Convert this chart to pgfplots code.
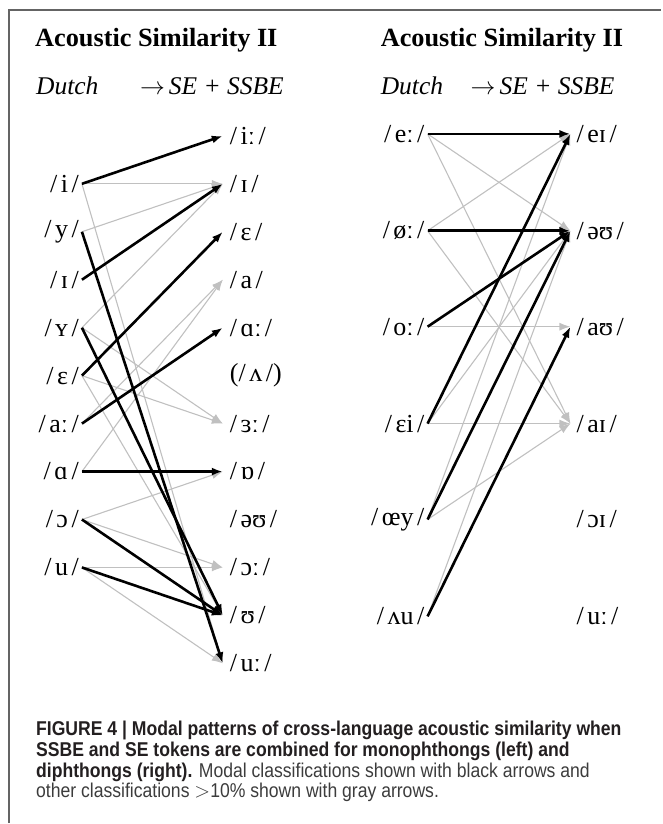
\documentclass[border=0pt]{standalone}
\usepackage{fontspec}
\setmainfont{Liberation Serif}
\newfontfamily\capfont[FakeStretch=0.88]{Liberation Sans}
\usepackage{pgfplots}
\pgfplotsset{compat=1.18}
\usetikzlibrary{arrows.meta}
\definecolor{lg}{RGB}{192,192,192}
\definecolor{framec}{RGB}{100,100,100}
\definecolor{capc}{RGB}{35,31,32}
\definecolor{capr}{RGB}{60,60,60}
\tikzset{
 blk/.style={black, line width=2.6pt, -{Latex[length=11pt,width=8pt]}},
 gry/.style={lg, line width=1.1pt, -{Latex[length=11pt,width=8pt]}},
 lab/.style={font=\fontsize{26}{27}\selectfont, inner sep=0pt},
}
\newcommand\ph[1]{/\kern3.5pt#1\kern3.5pt/}
\begin{document}
\begin{tikzpicture}
\begin{axis}[hide axis, scale only axis, width=662pt, height=824pt,
 xmin=0, xmax=662, ymin=0, ymax=824, y dir=reverse, clip=false]
\addplot[draw=none] coordinates {(0,0) (662,824)};
% frame
\addplot[framec, line width=1.6pt] coordinates {(9,824) (9,10) (662,10)};
% titles
\node[anchor=base west, font=\bfseries\fontsize{26.3}{27}\selectfont, inner sep=0pt] at (axis cs:35,47) {Acoustic Similarity II};
\node[anchor=base west, font=\bfseries\fontsize{26.3}{27}\selectfont, inner sep=0pt] at (axis cs:381,47) {Acoustic Similarity II};
\node[anchor=base west, font=\itshape\fontsize{25.5}{26}\selectfont, inner sep=0pt] at (axis cs:36,95) {Dutch};
\node[anchor=base west, font=\itshape\fontsize{25.5}{26}\selectfont, inner sep=0pt] at (axis cs:140,95) {$\rightarrow$\kern4pt SE + SSBE};
\node[anchor=base west, font=\itshape\fontsize{25.5}{26}\selectfont, inner sep=0pt] at (axis cs:381,95) {Dutch};
\node[anchor=base west, font=\itshape\fontsize{25.5}{26}\selectfont, inner sep=0pt] at (axis cs:471,95) {$\rightarrow$\kern4pt SE + SSBE};

% ---------- left panel: gray arrows ----------
\addplot[gry] coordinates {(82,184) (223,184)};
\addplot[gry] coordinates {(82,184) (223,664)};
\addplot[gry] coordinates {(82,232) (223,184)};
\addplot[gry] coordinates {(82,328) (223,184)};
\addplot[gry] coordinates {(82,328) (223,424)};
\addplot[gry] coordinates {(82,376) (223,424)};
\addplot[gry] coordinates {(82,376) (223,616)};
\addplot[gry] coordinates {(82,424) (223,280)};
\addplot[gry] coordinates {(82,472) (223,280)};
\addplot[gry] coordinates {(82,520) (223,472)};
\addplot[gry] coordinates {(82,520) (223,568)};
\addplot[gry] coordinates {(82,568) (223,568)};
\addplot[gry] coordinates {(82,568) (223,664)};
% ---------- left panel: black arrows ----------
\addplot[blk] coordinates {(82,184) (223,136)};
\addplot[blk] coordinates {(82,280) (223,184)};
\addplot[blk] coordinates {(82,376) (223,232)};
\addplot[blk] coordinates {(82,424) (223,328)};
\addplot[blk] coordinates {(82,472) (223,472)};
\addplot[blk] coordinates {(82,232) (223,664)};
\addplot[blk] coordinates {(82,328) (223,616)};
\addplot[blk] coordinates {(82,520) (223,616)};
\addplot[blk] coordinates {(82,568) (223,616)};

% left panel Dutch labels
\node[lab, anchor=east] at (axis cs:79,184) {\ph{i}};
\node[lab, anchor=east] at (axis cs:79,232) {\ph{y}};
\node[lab, anchor=east] at (axis cs:79,280) {\ph{ɪ}};
\node[lab, anchor=east] at (axis cs:79,328) {\ph{ʏ}};
\node[lab, anchor=east] at (axis cs:79,376) {\ph{ɛ}};
\node[lab, anchor=east] at (axis cs:79,424) {\ph{aː}};
\node[lab, anchor=east] at (axis cs:79,472) {\ph{ɑ}};
\node[lab, anchor=east] at (axis cs:79,520) {\ph{ɔ}};
\node[lab, anchor=east] at (axis cs:79,568) {\ph{u}};
% left panel English labels
\node[lab, anchor=west] at (axis cs:230,136) {\ph{iː}};
\node[lab, anchor=west] at (axis cs:230,184) {\ph{ɪ}};
\node[lab, anchor=west] at (axis cs:230,232) {\ph{ɛ}};
\node[lab, anchor=west] at (axis cs:230,280) {\ph{a}};
\node[lab, anchor=west] at (axis cs:230,328) {\ph{ɑː}};
\node[lab, anchor=west] at (axis cs:230,376) {(\ph{ʌ})};
\node[lab, anchor=west] at (axis cs:230,424) {\ph{ɜː}};
\node[lab, anchor=west] at (axis cs:230,472) {\ph{ɒ}};
\node[lab, anchor=west] at (axis cs:230,520) {\ph{əʊ}};
\node[lab, anchor=west] at (axis cs:230,568) {\ph{ɔː}};
\node[lab, anchor=west] at (axis cs:230,616) {\ph{ʊ}};
\node[lab, anchor=west] at (axis cs:230,664) {\ph{uː}};

% ---------- right panel: gray arrows ----------
\addplot[gry] coordinates {(428,134) (571,231)};
\addplot[gry] coordinates {(428,134) (571,424)};
\addplot[gry] coordinates {(428,231) (571,134)};
\addplot[gry] coordinates {(428,231) (571,424)};
\addplot[gry] coordinates {(428,327) (571,327)};
\addplot[gry] coordinates {(428,424) (571,231)};
\addplot[gry] coordinates {(428,424) (571,424)};
\addplot[gry] coordinates {(428,520) (571,134)};
\addplot[gry] coordinates {(428,520) (571,424)};
\addplot[gry] coordinates {(428,617) (571,231)};
% ---------- right panel: black arrows ----------
\addplot[blk] coordinates {(428,134) (571,134)};
\addplot[blk] coordinates {(428,231) (571,231)};
\addplot[blk] coordinates {(428,327) (571,231)};
\addplot[blk] coordinates {(428,424) (571,134)};
\addplot[blk] coordinates {(428,520) (571,231)};
\addplot[blk] coordinates {(428,617) (571,327)};

% right panel Dutch labels
\node[lab, anchor=east] at (axis cs:425,134) {\ph{eː}};
\node[lab, anchor=east] at (axis cs:425,231) {\ph{øː}};
\node[lab, anchor=east] at (axis cs:425,327) {\ph{oː}};
\node[lab, anchor=east] at (axis cs:425,424) {\ph{ɛi}};
\node[lab, anchor=east] at (axis cs:425,520) {\ph{œy}};
\node[lab, anchor=east] at (axis cs:425,617) {\ph{ʌu}};
% right panel English labels
\node[lab, anchor=west] at (axis cs:577,134) {\ph{eɪ}};
\node[lab, anchor=west] at (axis cs:577,231) {\ph{əʊ}};
\node[lab, anchor=west] at (axis cs:577,327) {\ph{aʊ}};
\node[lab, anchor=west] at (axis cs:577,424) {\ph{aɪ}};
\node[lab, anchor=west] at (axis cs:577,520) {\ph{ɔɪ}};
\node[lab, anchor=west] at (axis cs:577,617) {\ph{uː}};

% caption
\node[anchor=base west, inner sep=0pt, font=\capfont\bfseries\fontsize{20}{22}\selectfont, text=capc] at (axis cs:36,736) {FIGURE 4 | Modal patterns of cross-language acoustic similarity when};
\node[anchor=base west, inner sep=0pt, font=\capfont\bfseries\fontsize{20}{22}\selectfont, text=capc] at (axis cs:36,757) {SSBE and SE tokens are combined for monophthongs (left) and};
\node[anchor=base west, inner sep=0pt, font=\capfont\fontsize{20}{22}\selectfont, text=capr] at (axis cs:36,778) {\textcolor{capc}{\bfseries diphthongs (right).} Modal classifications shown with black arrows and};
\node[anchor=base west, inner sep=0pt, font=\capfont\fontsize{20}{22}\selectfont, text=capr] at (axis cs:36,798) {other classifications ${>}$10\% shown with gray arrows.};
\end{axis}
\end{tikzpicture}
\end{document}
